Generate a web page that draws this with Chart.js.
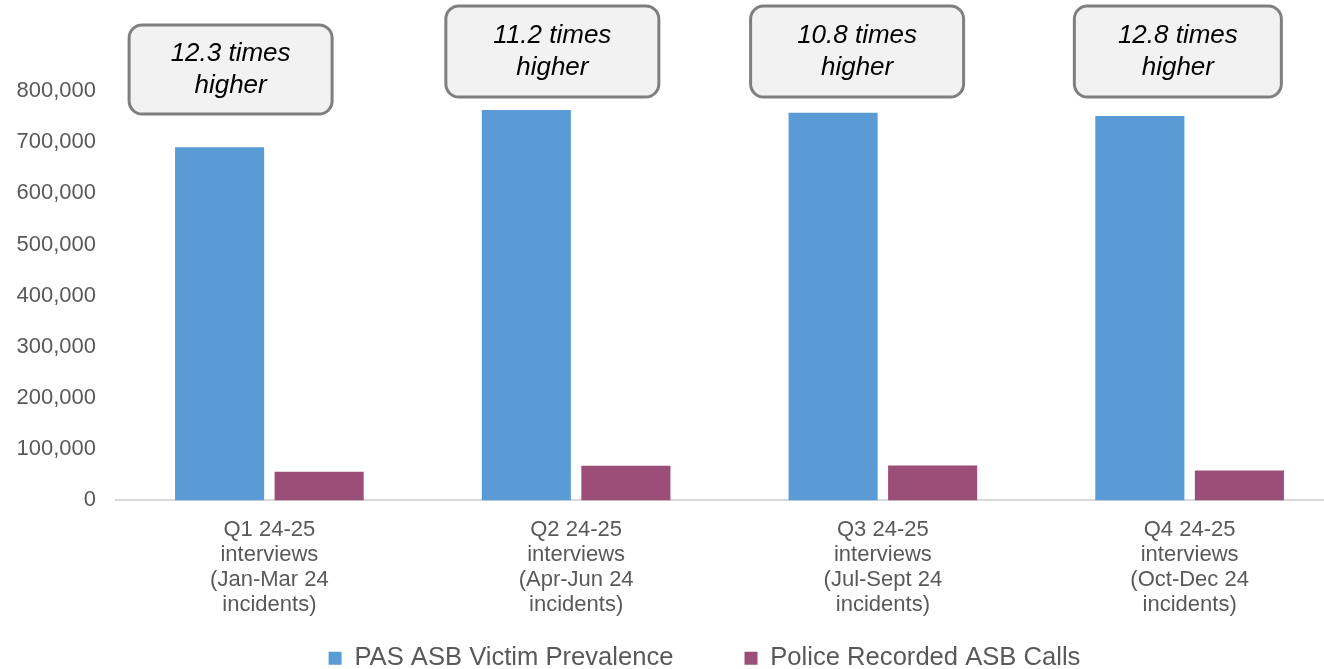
<!DOCTYPE html>
<html>
<head>
<meta charset="utf-8">
<script src="https://cdn.jsdelivr.net/npm/chart.js@4.4.1/dist/chart.umd.min.js"></script>
<style>
  html, body { margin: 0; padding: 0; background: #fff; overflow: hidden; }
  #wrap { position: relative; width: 1360px; height: 681px; }
</style>
</head>
<body>
<div id="wrap"><canvas id="asbChart"></canvas></div>
<script>
// ── Data ──────────────────────────────────────────────────────────────────────
const categories = [
  ['Q1 24-25', 'interviews', '(Jan-Mar 24', 'incidents)'],
  ['Q2 24-25', 'interviews', '(Apr-Jun 24', 'incidents)'],
  ['Q3 24-25', 'interviews', '(Jul-Sept 24', 'incidents)'],
  ['Q4 24-25', 'interviews', '(Oct-Dec 24', 'incidents)'],
];
const pasVictimPrevalence = [690000, 763000, 757500, 751000];
const policeRecordedCalls = [55800, 67600, 68000, 58400];
const ratioText = ['12.3 times', '11.2 times', '10.8 times', '12.8 times'];
const ratioSuffix = 'higher';
const yTickValues = [0, 100000, 200000, 300000, 400000, 500000, 600000, 700000, 800000];

// ── Defaults ──────────────────────────────────────────────────────────────────
Chart.defaults.font.family = "'Liberation Sans', Arial, sans-serif";
Chart.defaults.color = '#595959';

const TEXT_GREY = '#595959';

// ── Callout boxes over each quarter ──────────────────────────────────────────
// layout only: shift from the blue bar centre, top edge, size
const calloutLayout = [
  { dx: 11, top: 25, w: 203, h: 89 },
  { dx: 26, top: 6,  w: 213, h: 91 },
  { dx: 24, top: 6,  w: 213, h: 91 },
  { dx: 38, top: 6,  w: 207, h: 91 },
];

const calloutPlugin = {
  id: 'callouts',
  afterDraw(chart) {
    const { ctx } = chart;
    const bars = chart.getDatasetMeta(0).data;
    ctx.save();
    bars.forEach((bar, i) => {
      const box = calloutLayout[i];
      const cx = bar.x + box.dx;
      const x = cx - box.w / 2;
      ctx.beginPath();
      ctx.roundRect(x, box.top, box.w, box.h, 13);
      ctx.fillStyle = '#f2f2f2';
      ctx.fill();
      ctx.lineWidth = 3;
      ctx.strokeStyle = '#7f7f7f';
      ctx.stroke();

      const cy = box.top + box.h / 2;
      ctx.fillStyle = '#000';
      ctx.font = "italic 26px 'Liberation Sans', Arial, sans-serif";
      ctx.textAlign = 'center';
      ctx.textBaseline = 'middle';
      ctx.fillText(ratioText[i], cx, cy - 16);
      ctx.fillText(ratioSuffix, cx, cy + 16);
    });
    ctx.restore();
  },
};

// axes are squeezed so the legend sits where it should; widen their
// clip boxes again after layout so the tick labels are not cut off
const unclipLabels = {
  id: 'unclipLabels',
  afterLayout(chart) {
    chart.scales.y.left = 0;
    chart.scales.x.bottom = chart.height;
  },
};

// ── Chart ─────────────────────────────────────────────────────────────────────
new Chart(document.getElementById('asbChart').getContext('2d'), {
  type: 'bar',
  data: {
    labels: categories,
    datasets: [
      {
        label: 'PAS ASB Victim Prevalence',
        data: pasVictimPrevalence,
        backgroundColor: '#5b9bd5',
        borderWidth: 0,
        categoryPercentage: 0.649,
        barPercentage: 0.895,
      },
      {
        label: 'Police Recorded ASB Calls',
        data: policeRecordedCalls,
        backgroundColor: '#9b4f78',
        borderWidth: 0,
        categoryPercentage: 0.649,
        barPercentage: 0.895,
      },
    ],
  },
  options: {
    responsive: true,
    maintainAspectRatio: false,
    animation: false,
    layout: { padding: { top: 91, left: 66, right: 17, bottom: 0 } },
    scales: {
      x: {
        grid: { display: false, drawTicks: false },
        border: { display: true, color: '#d9d9d9', width: 2 },
        ticks: {
          color: TEXT_GREY,
          font: { size: 22, lineHeight: 1.14 },
          padding: 17,
          maxRotation: 0,
          autoSkip: false,
        },
        afterFit(scale) { scale.height = 74; },
      },
      y: {
        min: 0,
        max: 800000,
        grid: { display: false, drawTicks: false },
        border: { display: false },
        afterBuildTicks(scale) { scale.ticks = yTickValues.map(v => ({ value: v })); },
        ticks: {
          color: TEXT_GREY,
          font: { size: 22 },
          padding: 20,
          callback: v => v.toLocaleString('en-GB'),
        },
        afterFit(scale) { scale.width = 50; },
      },
    },
    plugins: {
      tooltip: { enabled: false },
      legend: {
        position: 'bottom',
        labels: {
          color: TEXT_GREY,
          font: { size: 25.6 },
          boxWidth: 13,
          boxHeight: 13,
          padding: 71,
        },
      },
    },
  },
  plugins: [calloutPlugin, unclipLabels],
});
</script>
</body>
</html>
